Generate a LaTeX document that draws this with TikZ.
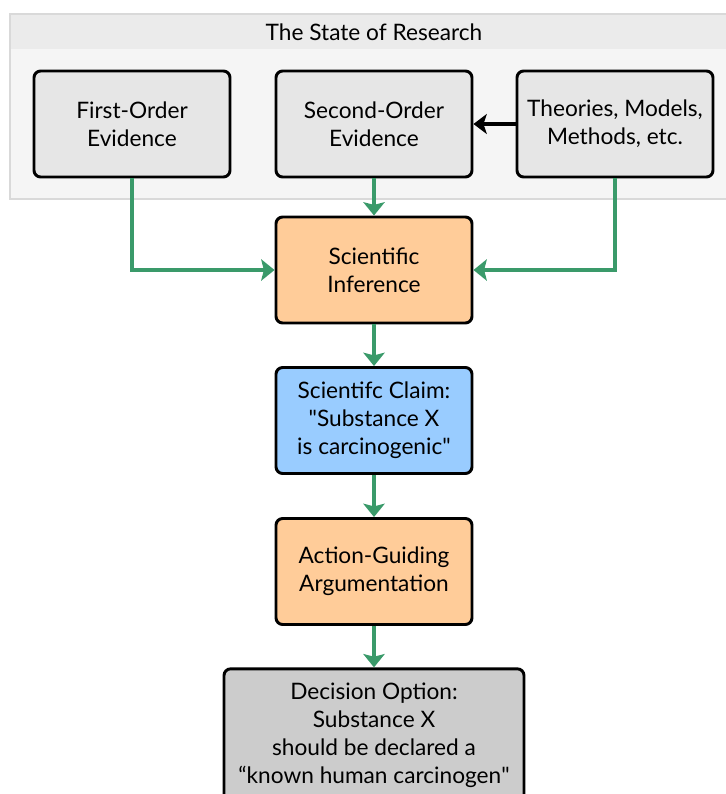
\documentclass[tikz,border=0pt]{standalone}
\usepackage{fontspec}
\setmainfont{Lato}
\usetikzlibrary{arrows.meta}
\definecolor{grn}{HTML}{3A9A6A}
\definecolor{orng}{HTML}{FFCC99}
\definecolor{blu}{HTML}{99CCFF}
\definecolor{gry}{HTML}{CCCCCC}
\definecolor{topfill}{HTML}{E6E6E6}
\definecolor{band}{HTML}{EBEBEB}
\definecolor{panel}{HTML}{F5F5F5}
\definecolor{panelline}{HTML}{D9D9D9}
\tikzset{
  box/.style={draw=black, line width=2.2pt, rounded corners=5pt, align=center,
    minimum width=147pt, minimum height=79.5pt, inner sep=2pt,
    font=\fontsize{17}{21}\selectfont},
  garrow/.style={draw=grn, line width=3pt, -{Stealth[length=10pt,width=16pt,inset=2pt]}},
  barrow/.style={draw=black, line width=2.5pt, -{Stealth[length=10pt,width=15pt,inset=2.5pt]}},
}
\begin{document}
\begin{tikzpicture}[x=0.75pt,y=-0.75pt]
\useasboundingbox (0,0) rectangle (726,794);
\clip (0,0) rectangle (726,794);
\path[fill=panel, draw=panelline, line width=0.8pt] (10,14) rectangle (740,199);
\path[fill=band] (10.5,14.5) rectangle (739,49);
\node[font=\fontsize{17}{21}\selectfont] (title) at (374,32) {The State of Research};
\node[box, fill=topfill] (fo) at (132,124) {First-Order\\Evidence};
\node[box, fill=topfill] (so) at (374,124) {Second-Order\\Evidence};
\node[box, fill=topfill] (tm) at (615,124) {Theories, Models,\\Methods, etc.};
\node[box, fill=orng] (si) at (374,270) {Scientific\\Inference};
\node[box, fill=blu] (cl) at (374,420.5) {Scientifc Claim:\\\textquotedbl Substance X\\is carcinogenic\textquotedbl};
\node[box, fill=orng] (ag) at (374,571.5) {Action-Guiding\\Argumentation};
\node[box, fill=gry, minimum width=225pt, minimum height=100pt] (dc) at (374,735.5) {Decision Option:\\Substance X\\should be declared a\\“known human carcinogen\textquotedbl};
\draw[barrow] (tm.west) -- (so.east);
\draw[garrow] (fo.south) |- (si.west);
\draw[garrow] (tm.south) |- (si.east);
\draw[garrow] (so.south) -- (si.north);
\draw[garrow] (si.south) -- (cl.north);
\draw[garrow] (cl.south) -- (ag.north);
\draw[garrow] (ag.south) -- (dc.north);
\end{tikzpicture}
\end{document}
